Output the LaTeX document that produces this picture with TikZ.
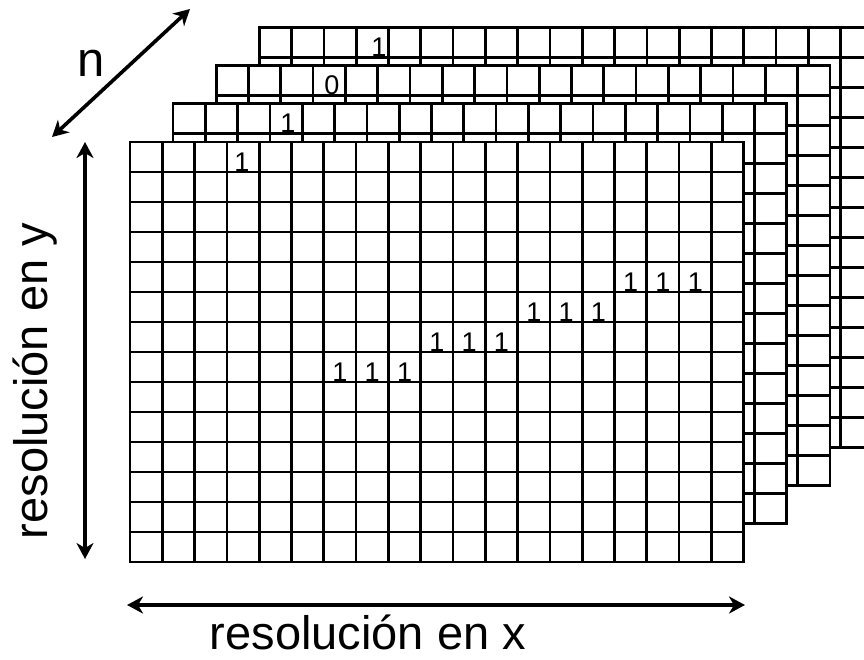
\documentclass[tikz,border=0pt]{standalone}
\usepackage{fontspec}
\setmainfont{Liberation Sans}
\usetikzlibrary{arrows.meta}

\tikzstyle{pixfig}=[x=1pt,y=-1pt]
\tikzstyle{gridrule}=[line width=2.7pt,line cap=rect]
\tikzstyle{dimarrow}=[line width=3.6pt,{Stealth[length=16pt,width=17pt,inset=5pt]}-{Stealth[length=16pt,width=17pt,inset=5pt]}]
\tikzstyle{bitlabel}=[inner sep=0pt,anchor=base,font=\fontsize{27}{27}\selectfont]
\tikzstyle{axislabel}=[inner sep=0pt,anchor=base,font=\fontsize{47}{47}\selectfont]

\newcommand{\cellw}{32.3}
\newcommand{\cellh}{30}
% one frame of 19 x 14 cells, top left corner at (#1,#2)
\newcommand{\drawframe}[2]{%
  \fill[white] (#1,#2) rectangle ++(19*\cellw,14*\cellh);
  \foreach \c in {0,...,19} \draw[gridrule] ({#1+\c*\cellw},#2) -- ++(0,14*\cellh);
  \foreach \r in {0,...,14} \draw[gridrule] (#1,{#2+\r*\cellh}) -- ++(19*\cellw,0);
}

\begin{document}
\begin{tikzpicture}[style=pixfig]
\clip (0,0) rectangle (864,659);

% frames, back to front
\drawframe{259.3}{27.4}
\node[bitlabel] (bitd) at (379,56.4) {1};

\drawframe{216.2}{65.6}
\node[bitlabel] (bitc) at (332,94.6) {0};

\drawframe{173.1}{103.8}
\node[bitlabel] (bitb) at (288,132.8) {1};

\drawframe{130}{142}
\node[bitlabel] (bita) at (242,171) {1};

% diagonal of ones on the front frame
\foreach \g in {0,...,3}
  \foreach \k in {0,1,2}
    \node[bitlabel] (diag\g\k) at ({130+(6.5+3*\g+\k)*\cellw},{142+(8-\g)*\cellh-1}) {1};

% n axis
\coordinate (ntop) at (190,9);
\coordinate (nbot) at (52,137);
\draw[dimarrow] (nbot) -- (ntop);
\node[axislabel,font=\fontsize{49}{49}\selectfont] (nlab) at (91,76) {n};

% y axis
\coordinate (ytop) at (85,142);
\coordinate (ybot) at (85,559);
\draw[dimarrow] (ybot) -- (ytop);
\node[axislabel,rotate=90] (ylab) at (47,381) {resolución en y};

% x axis
\coordinate (xleft) at (127,605);
\coordinate (xright) at (745,605);
\draw[dimarrow] (xleft) -- (xright);
\node[axislabel] (xlab) at (368,649) {resolución en x};
\end{tikzpicture}
\end{document}
